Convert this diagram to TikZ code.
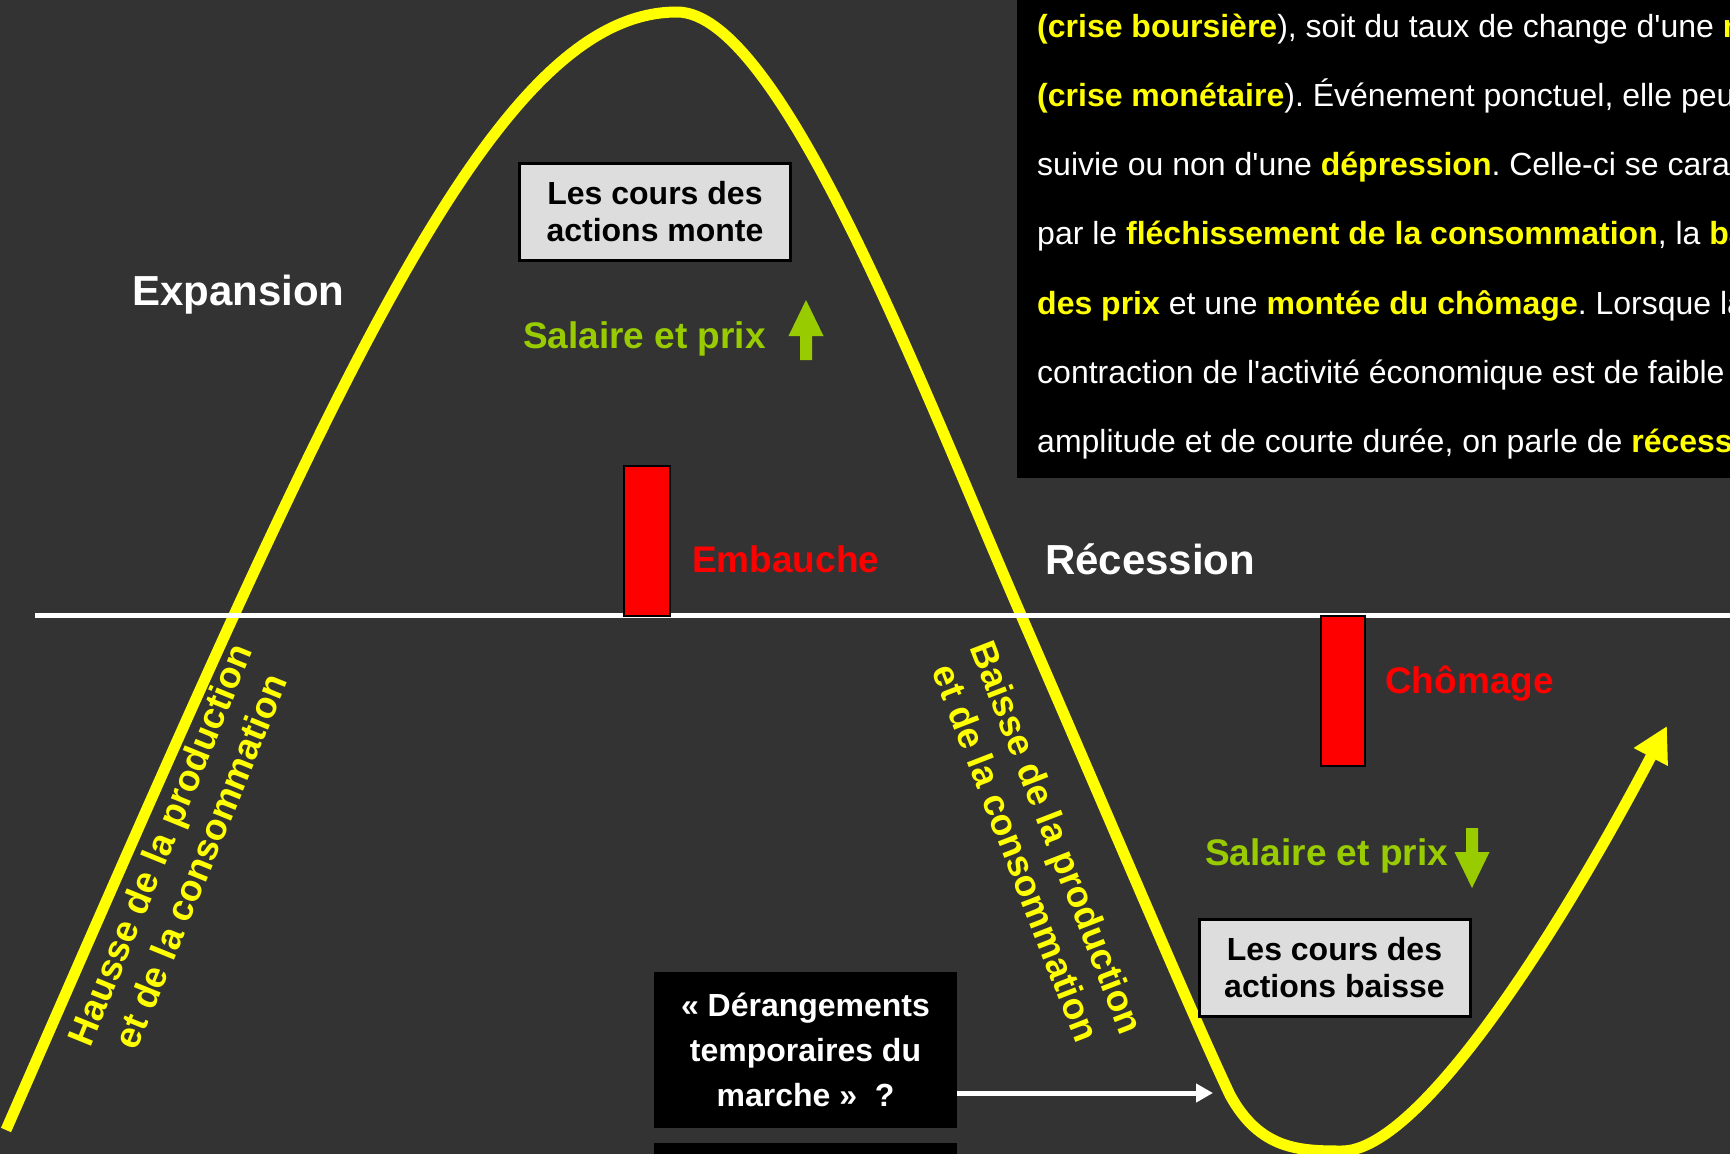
\documentclass[tikz,border=0pt]{standalone}
\usepackage{fontspec}
\setmainfont{Liberation Sans}[Ligatures=TeXOff]
\usetikzlibrary{arrows.meta,positioning}
\definecolor{Slate}{HTML}{333333}
\definecolor{Curve}{HTML}{FFFF00}
\definecolor{Leaf}{HTML}{99CC00}
\definecolor{Alarm}{HTML}{FF0000}
\definecolor{Card}{HTML}{DDDDDD}
\newcommand{\pxfont}[2]{\fontsize{#1}{#2}\selectfont}
\newcommand{\hl}[1]{{\bfseries\color{Curve}#1}}
\frenchspacing

\begin{document}
\begin{tikzpicture}[x=1pt,y=-1pt,
  big/.style={font=\bfseries\pxfont{42}{50},white,anchor=base west,inner sep=0pt},
  tag/.style={font=\bfseries\pxfont{37}{44},anchor=base west,inner sep=0pt},
  slope/.style={font=\bfseries\pxfont{37}{44},Curve,align=center,inner sep=0pt},
  card/.style={draw=black,line width=3pt,fill=Card,minimum width=271pt,minimum height=97pt,
    inner sep=0pt,align=center,font=\bfseries\pxfont{32}{37}}]
  \useasboundingbox (0,0) rectangle (1730,1154);
  \fill[Slate] (0,0) rectangle (1730,1154);
  % definition text, top right
  \begin{scope}
    \clip (1017,0) rectangle (1730,478);
    \fill[black] (1017,0) rectangle (1730,478);
    \foreach \k/\txt in {
      0/{\hl{(crise boursière}), soit du taux de change d'une \hl{monnaie}},
      1/{\hl{(crise monétaire}). Événement ponctuel, elle peut être},
      2/{suivie ou non d'une \hl{dépression}. Celle-ci se caractérise},
      3/{par le \hl{fléchissement de la consommation}, la \hl{baisse}},
      4/{\hl{des prix} et une \hl{montée du chômage}. Lorsque la},
      5/{contraction de l'activité économique est de faible},
      6/{amplitude et de courte durée, on parle de \hl{récession}.}} {
      \node[font=\pxfont{32}{38},white,anchor=base west,inner sep=0pt] (def\k) at (1037,{37+69.3*\k}) {\txt};
    }
  \end{scope}
  % business cycle
  \draw[Curve,line width=11pt,-{Triangle[length=35pt,width=36pt]}]
    (6,1130) .. controls (330,390) and (490,12) .. (677,12)
    .. controls (780,12) and (921,385) .. (1021,615)
    .. controls (1120,843) and (1190,1010) .. (1230,1095)
    .. controls (1260,1150) and (1300,1151) .. (1342,1151)
    .. controls (1420,1151) and (1560,930) .. (1667,726);
  \draw[white,line width=5pt] (35,615) -- (1730,615);
  \draw[black,line width=2pt,fill=Alarm] (624,466) rectangle (670,616);
  \draw[black,line width=2pt,fill=Alarm] (1321,616) rectangle (1365,766);
  \node[big] (expansion) at (132,305) {Expansion};
  \node[big] (recession) at (1045,574) {Récession};
  \node[tag,Alarm] (embauche) at (692,572) {Embauche};
  \node[tag,Alarm] (chomage) at (1385,693) {Chômage};
  \node[tag,Leaf] (salaireA) at (523,348) {Salaire et prix};
  \node[tag,Leaf] (salaireB) at (1205,865) {Salaire et prix};
  \foreach \ax/\ay/\s in {806/300/1,1472/888/-1} {
    \fill[Leaf] (\ax,\ay) -- ++(17.5,36*\s) -- ++(-11.5,0) -- ++(0,24*\s) -- ++(-12,0)
      -- ++(0,-24*\s) -- ++(-11.5,0) -- cycle;
  }
  \node[card] (coursA) at (655,212) {Les cours des\\actions monte};
  \node[card] (coursB) at (1334.5,968) {Les cours des\\actions baisse};
  \node[slope,rotate=67.8] (hausse) at (180,853) {Hausse de la production\\et de la consommation};
  \node[slope,rotate=-68.8] (baisse) at (1037,845) {Baisse de la production\\et de la consommation};
  \node[fill=black,text=white,minimum width=303pt,minimum height=156pt,inner sep=0pt,
    align=center,font=\bfseries\pxfont{32}{45}] (derange) at (805.5,1050)
    {« Dérangements\\temporaires du\\marche »\ \ ?};
  \fill[black] (654,1143) rectangle (957,1160);
  \coordinate (hit) at (1213,1093);
  \draw[white,line width=5pt,-{Triangle[length=17pt,width=18pt]}] (derange.east |- hit) -- (hit);
\end{tikzpicture}
\end{document}
